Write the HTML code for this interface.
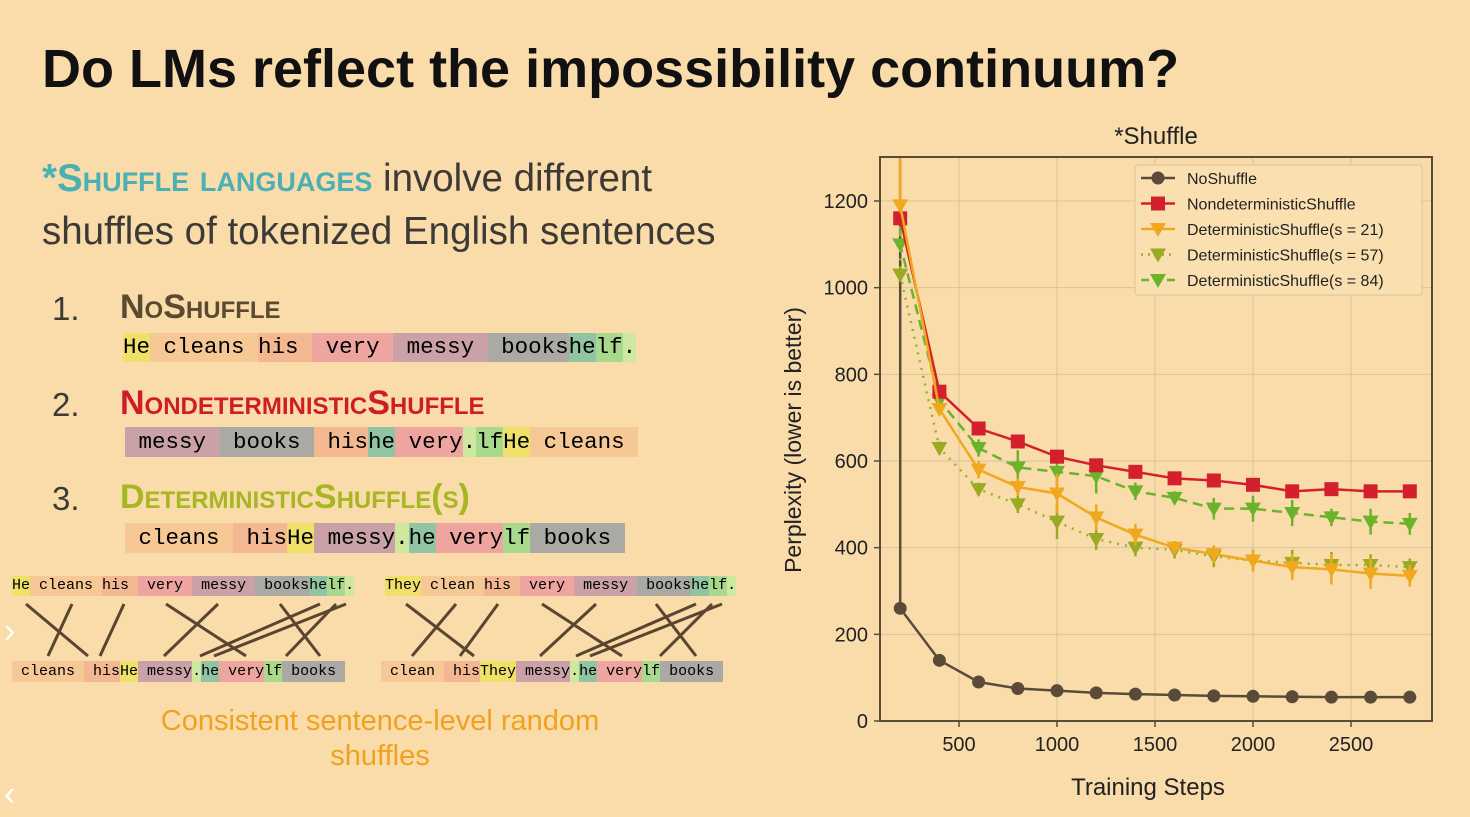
<!DOCTYPE html>
<html><head><meta charset="utf-8">
<style>
body{margin:0;width:1470px;height:817px;background:#f9dcaa;overflow:hidden;position:relative;font-family:"Liberation Sans",sans-serif;}
.abs{position:absolute;white-space:nowrap;}
.sc{font-variant:small-caps;}
.row{position:absolute;display:flex;font-family:"Liberation Mono","DejaVu Sans Mono",monospace;}
.row span{display:inline-block;}
.t-He{background:#efe06a}.t-cleans{background:#f5c895}.t-his{background:#f3b792}.t-very{background:#eea5a0}.t-messy{background:#c9a1a6}.t-books{background:#aaa9a4}.t-he{background:#90c4a2}.t-lf{background:#a8d98d}.t-dot{background:#cfe8a0}
</style></head><body>
<div class="abs" style="left:42px;top:38px;font-size:54px;font-weight:bold;color:#111;">Do LMs reflect the impossibility continuum?</div>
<div class="abs" style="left:42px;top:157px;font-size:38.5px;color:#3d3a36;"><span class="sc" style="color:#4bb0b3;font-weight:bold;">*Shuffle languages</span> involve different</div>
<div class="abs" style="left:42px;top:210px;font-size:38.5px;color:#3d3a36;">shuffles of tokenized English sentences</div>

<div class="abs" style="left:52px;top:290px;font-size:33px;color:#3d3a36;">1.</div>
<div class="abs sc" style="left:120px;top:288px;font-size:34px;font-weight:bold;color:#5a4a30;">NoShuffle</div>
<div class="row" style="left:123px;top:333px;height:29px;font-size:22.5px;line-height:29px;">
<span class="t-He">He</span><span class="t-cleans">&nbsp;cleans&nbsp;</span><span class="t-his">his&nbsp;</span><span class="t-very">&nbsp;very&nbsp;</span><span class="t-messy">&nbsp;messy&nbsp;</span><span class="t-books">&nbsp;books</span><span class="t-he">he</span><span class="t-lf">lf</span><span class="t-dot">.</span></div>

<div class="abs" style="left:52px;top:386px;font-size:33px;color:#3d3a36;">2.</div>
<div class="abs sc" style="left:120px;top:384px;font-size:34px;font-weight:bold;color:#d01c2a;">NondeterministicShuffle</div>
<div class="row" style="left:125px;top:427px;height:30px;font-size:22.5px;line-height:30px;">
<span class="t-messy">&nbsp;messy&nbsp;</span><span class="t-books">&nbsp;books&nbsp;</span><span class="t-his">&nbsp;his</span><span class="t-he">he</span><span class="t-very">&nbsp;very</span><span class="t-dot">.</span><span class="t-lf">lf</span><span class="t-He">He</span><span class="t-cleans">&nbsp;cleans&nbsp;</span></div>

<div class="abs" style="left:52px;top:480px;font-size:33px;color:#3d3a36;">3.</div>
<div class="abs sc" style="left:120px;top:478px;font-size:34px;font-weight:bold;color:#a7b622;">DeterministicShuffle(s)</div>
<div class="row" style="left:125px;top:523px;height:30px;font-size:22.5px;line-height:30px;">
<span class="t-cleans">&nbsp;cleans&nbsp;</span><span class="t-his">&nbsp;his</span><span class="t-He">He</span><span class="t-messy">&nbsp;messy</span><span class="t-dot">.</span><span class="t-he">he</span><span class="t-very">&nbsp;very</span><span class="t-lf">lf</span><span class="t-books">&nbsp;books&nbsp;</span></div>

<div class="row" style="left:12px;top:576px;height:20px;font-size:15px;line-height:20px;">
<span class="t-He">He</span><span class="t-cleans">&nbsp;cleans&nbsp;</span><span class="t-his">his&nbsp;</span><span class="t-very">&nbsp;very&nbsp;</span><span class="t-messy">&nbsp;messy&nbsp;</span><span class="t-books">&nbsp;books</span><span class="t-he">he</span><span class="t-lf">lf</span><span class="t-dot">.</span></div>
<div class="row" style="left:12px;top:661px;height:21px;font-size:15px;line-height:21px;">
<span class="t-cleans">&nbsp;cleans&nbsp;</span><span class="t-his">&nbsp;his</span><span class="t-He">He</span><span class="t-messy">&nbsp;messy</span><span class="t-dot">.</span><span class="t-he">he</span><span class="t-very">&nbsp;very</span><span class="t-lf">lf</span><span class="t-books">&nbsp;books&nbsp;</span></div>
<div class="row" style="left:385px;top:576px;height:20px;font-size:15px;line-height:20px;">
<span class="t-He">They</span><span class="t-cleans">&nbsp;clean&nbsp;</span><span class="t-his">his&nbsp;</span><span class="t-very">&nbsp;very&nbsp;</span><span class="t-messy">&nbsp;messy&nbsp;</span><span class="t-books">&nbsp;books</span><span class="t-he">he</span><span class="t-lf">lf</span><span class="t-dot">.</span></div>
<div class="row" style="left:381px;top:661px;height:21px;font-size:15px;line-height:21px;">
<span class="t-cleans">&nbsp;clean&nbsp;</span><span class="t-his">&nbsp;his</span><span class="t-He">They</span><span class="t-messy">&nbsp;messy</span><span class="t-dot">.</span><span class="t-he">he</span><span class="t-very">&nbsp;very</span><span class="t-lf">lf</span><span class="t-books">&nbsp;books&nbsp;</span></div>

<svg class="abs" style="left:0;top:600px;" width="740" height="60" stroke="#5a4530" stroke-width="3">
<line x1="26" y1="4" x2="88" y2="56"/><line x1="72" y1="4" x2="48" y2="56"/><line x1="124" y1="4" x2="100" y2="56"/>
<line x1="166" y1="4" x2="246" y2="56"/><line x1="218" y1="4" x2="164" y2="56"/><line x1="280" y1="4" x2="320" y2="56"/>
<line x1="320" y1="4" x2="200" y2="56"/><line x1="346" y1="4" x2="214" y2="56"/><line x1="336" y1="4" x2="286" y2="56"/>
<line x1="406" y1="4" x2="474" y2="56"/><line x1="456" y1="4" x2="412" y2="56"/><line x1="498" y1="4" x2="460" y2="56"/>
<line x1="542" y1="4" x2="622" y2="56"/><line x1="596" y1="4" x2="540" y2="56"/><line x1="656" y1="4" x2="696" y2="56"/>
<line x1="696" y1="4" x2="576" y2="56"/><line x1="722" y1="4" x2="590" y2="56"/><line x1="712" y1="4" x2="660" y2="56"/>
</svg>
<div class="abs" style="left:80px;width:600px;top:704px;text-align:center;font-size:29px;color:#f0a21e;white-space:normal;line-height:35px;">Consistent sentence-level random<br>shuffles</div>
<div class="abs" style="left:4px;top:612px;font-size:34px;color:#fff;">›</div>
<div class="abs" style="left:4px;top:775px;font-size:34px;color:#fff;">‹</div>

<svg id="chart" class="abs" style="left:760px;top:110px;" width="710" height="707"></svg>
<script>
const steps=[200,400,600,800,1000,1200,1400,1600,1800,2000,2200,2400,2600,2800];
const noShuffle=[260,140,90,75,70,65,62,60,58,57,56,55,55,55];
const nondet=[1160,760,675,645,610,590,575,560,555,545,530,535,530,530];
const det21=[1190,720,580,540,525,470,430,400,385,370,355,350,340,335];
const det57=[1030,630,535,500,460,420,400,395,380,370,365,360,360,355];
const det84=[1100,740,630,585,575,565,530,515,490,490,480,470,460,455];
const det21Err=[0,15,20,20,45,30,25,15,20,25,30,35,35,25];
const det57Err=[0,15,15,20,40,25,20,20,25,25,30,30,25,20];
const det84Err=[0,15,20,40,35,40,20,15,25,30,30,20,30,25];
const startValue=1400;
const yTicks=[0,200,400,600,800,1000,1200];
const xTicks=[500,1000,1500,2000,2500];
const OX=760,OY=110;
const L=880-OX,R=1432-OX,T=157-OY,B=721-OY;
const X=v=>(861-OX)+v*0.196;
const Y=v=>B-v*(520/1200);
const svg=document.getElementById('chart');
const NS='http://www.w3.org/2000/svg';
function mk(tag,attrs,parent){const e=document.createElementNS(NS,tag);for(const k in attrs)e.setAttribute(k,attrs[k]);(parent||svg).appendChild(e);return e;}
const defs=mk('defs',{});const cp=mk('clipPath',{id:'pc'},defs);mk('rect',{x:L,y:T,width:R-L,height:B-T},cp);
yTicks.forEach(v=>{const g=mk('line',{x1:L,x2:R,y1:Y(v),y2:Y(v),stroke:'#d9c39c','stroke-width':1});

mk('line',{x1:L-6,x2:L,y1:Y(v),y2:Y(v),stroke:'#5a4a38','stroke-width':1.5});
const t=mk('text',{x:L-12,y:Y(v)+7,'text-anchor':'end','font-size':20,fill:'#222','font-family':'Liberation Sans, sans-serif'});t.textContent=v;
});
xTicks.forEach(v=>{const g=mk('line',{x1:X(v),x2:X(v),y1:T,y2:B,stroke:'#d9c39c','stroke-width':1});

mk('line',{x1:X(v),x2:X(v),y1:B,y2:B+6,stroke:'#5a4a38','stroke-width':1.5});
const t=mk('text',{x:X(v),y:B+30,'text-anchor':'middle','font-size':20,fill:'#222','font-family':'Liberation Sans, sans-serif'});t.textContent=v;
});
const plot=mk('g',{'clip-path':'url(#pc)'});
function marker(kind,x,y,color,parent){
 if(kind==='circle')return mk('circle',{cx:x,cy:y,r:6.5,fill:color},parent);
 if(kind==='square')return mk('rect',{x:x-7,y:y-7,width:14,height:14,fill:color},parent);
 return mk('polygon',{points:`${x-8},${y-6} ${x+8},${y-6} ${x},${y+8}`,fill:color},parent);
}
function series(name,vals,color,dash,kind,err,mcolor){
 const g=mk('g',{},plot);
 
 const pts=[[X(steps[0]),Y(startValue)]].concat(vals.map((v,i)=>[X(steps[i]),Y(v)]));
 mk('polyline',{points:pts.map(p=>p.join(',')).join(' '),fill:'none',stroke:color,'stroke-width':2.5,'stroke-dasharray':dash||'none'},g);
 vals.forEach((v,i)=>{
  if(err&&err[i])mk('line',{x1:X(steps[i]),x2:X(steps[i]),y1:Y(v-err[i]),y2:Y(v+err[i]),stroke:mcolor||color,'stroke-width':2.5},g);
  const m=marker(kind,X(steps[i]),Y(v),mcolor||color,g);
  
 });
}
series('noshuffle-line',noShuffle,'#5a4a38',null,'circle');
series('det84-line',det84,'#6cb32c','10,6','tri',det84Err);
series('det57-line',det57,'#8fb52a','2,6','tri',det57Err,'#9aaa22');
series('nondeterministic-line',nondet,'#d4202c',null,'square');
series('det21-line',det21,'#f0a81e',null,'tri',det21Err);
const frame=mk('rect',{x:L,y:T,width:R-L,height:B-T,fill:'none',stroke:'#5a4a38','stroke-width':2});

const title=mk('text',{x:1156-OX,y:144-OY,'text-anchor':'middle','font-size':24,fill:'#222','font-family':'Liberation Sans, sans-serif'});title.textContent='*Shuffle';

const xl=mk('text',{x:1148-OX,y:795-OY,'text-anchor':'middle','font-size':24,fill:'#222','font-family':'Liberation Sans, sans-serif'});xl.textContent='Training Steps';

const yl=mk('text',{x:0,y:0,'text-anchor':'middle','font-size':23,fill:'#222','font-family':'Liberation Sans, sans-serif',transform:`translate(${801-OX},${440-OY}) rotate(-90)`});yl.textContent='Perplexity (lower is better)';

const lg=mk('g',{});
mk('rect',{x:1135-OX,y:165-OY,width:287,height:130,fill:'#fae0b0',stroke:'#d8c39c','stroke-width':1,rx:3},lg);
const legendNames=['NoShuffle','NondeterministicShuffle','DeterministicShuffle(s = 21)','DeterministicShuffle(s = 57)','DeterministicShuffle(s = 84)'];
const legendStyle=[['#5a4a38',null,'circle'],['#d4202c',null,'square'],['#f0a81e',null,'tri'],['#9aaa22','2,5','tri'],['#6cb32c','8,5','tri']];
legendNames.forEach((n,i)=>{const y=178-OY+i*25.5;const e=mk('g',{},lg);
 
 const [c,d,k]=legendStyle[i];
 mk('line',{x1:1141-OX,x2:1175-OX,y1:y,y2:y,stroke:c,'stroke-width':2.5,'stroke-dasharray':d||'none'},e);
 marker(k,1158-OX,y,c,e);
 const t=mk('text',{x:1187-OX,y:y+6,'font-size':16,fill:'#222','font-family':'Liberation Sans, sans-serif'},e);t.textContent=n;});
</script>
</body></html>
